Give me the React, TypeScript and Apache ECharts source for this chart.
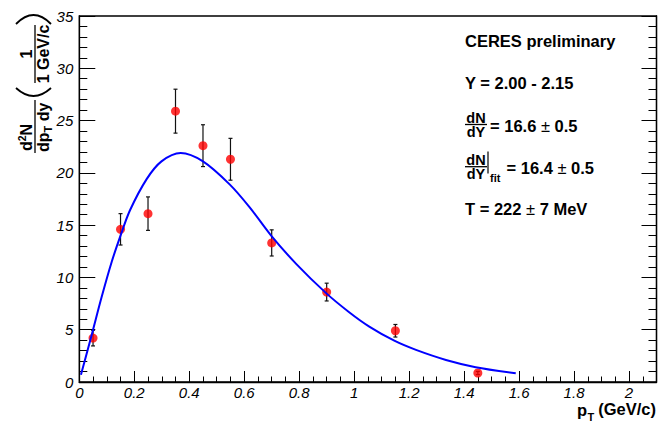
import { useEffect, useRef } from "react";
import * as echarts from "echarts";

// Measured invariant yield per p_T bin (GeV/c) with statistical errors
const ptBins = [0.05, 0.15, 0.25, 0.35, 0.45, 0.55, 0.7, 0.9, 1.15, 1.45];
const yields = [4.2, 14.6, 16.1, 25.9, 22.6, 21.3, 13.3, 8.6, 4.9, 0.86];
const yieldErrors = [0.75, 1.5, 1.6, 2.1, 2.0, 2.0, 1.25, 0.85, 0.6, 0.15];

// Thermal fit curve sampled along p_T
const fitPt = [
  0.006, 0.045, 0.081, 0.118, 0.15, 0.184, 0.245, 0.299, 0.369, 0.45, 0.547,
  0.62, 0.698, 0.789, 0.898, 0.983, 1.055, 1.146, 1.225, 1.334, 1.442, 1.588,
];
const fitYield = [
  0.7, 4.5, 8.1, 11.5, 14.0, 16.4, 19.4, 21.1, 21.9, 21.1, 18.9, 16.7,
  14.0, 11.3, 8.5, 6.65, 5.3, 3.95, 3.07, 2.11, 1.42, 0.83,
];

// Axis tick labels
const xTickLabels = ["0", "0.2", "0.4", "0.6", "0.8", "1", "1.2", "1.4", "1.6", "1.8", "2"];
const yTickLabels = ["0", "5", "10", "15", "20", "25", "30", "35"];

const FONT = "'Liberation Sans', Arial, Helvetica, sans-serif";
const TICK_FONT = "'Liberation Sans', 'DejaVu Sans', sans-serif";
const INK = "#000";

function txt(
  text: string,
  x: number,
  y: number,
  opts: { size?: number; align?: string; weight?: string; rich?: any; lh?: number } = {}
) {
  const align = opts.align ?? "left";
  const size = opts.size ?? 16.5;
  return {
    type: "text",
    x,
    y,
    style: {
      text,
      fill: INK,
      fontFamily: FONT,
      fontSize: size,
      fontWeight: opts.weight ?? "bold",
      lineHeight: opts.lh ?? Math.round(size * 0.9),
      align,
      textAlign: align,
      verticalAlign: "middle",
      textVerticalAlign: "middle",
      rich: opts.rich,
    },
  };
}

function seg(x1: number, y1: number, x2: number, y2: number, w = 1.3) {
  return {
    type: "line",
    shape: { x1, y1, x2, y2 },
    style: { stroke: INK, lineWidth: w },
  };
}

const pmRich = {
  pm: { fontWeight: "normal", fontSize: 16.5, fontFamily: FONT, verticalAlign: "middle", lineHeight: 15 },
};

function scriptRich(main: number, small: number) {
  return {
    m: { fontSize: main, fontWeight: "bold", fontFamily: FONT, verticalAlign: "middle", lineHeight: 20 },
    sup: { fontSize: small, fontWeight: "bold", fontFamily: FONT, verticalAlign: "top", lineHeight: 20 },
    sub: { fontSize: small, fontWeight: "bold", fontFamily: FONT, verticalAlign: "bottom", lineHeight: 20 },
  };
}

// Slanted tick-label style, applied through a rich token
const tickRich = {
  i: {
    color: INK,
    fontFamily: TICK_FONT,
    fontStyle: "oblique",
    fontWeight: "normal",
    fontSize: 15,
    lineHeight: 13,
  },
};

export default function App() {
  const ref = useRef<HTMLDivElement>(null);

  useEffect(() => {
    if (!ref.current) return;
    const chart = echarts.init(ref.current, undefined, { renderer: "svg" });

    const errorData = ptBins.map((x, i) => [x, yields[i] - yieldErrors[i], yields[i] + yieldErrors[i]]);
    const pointData = ptBins.map((x, i) => [x, yields[i]]);
    const fitData = fitPt.map((x, i) => [x, fitYield[i]]);

    const tickLabelStyle = {
      color: INK,
      fontFamily: TICK_FONT,
      fontStyle: "oblique",
      fontSize: 15,
      lineHeight: 13,
      rich: tickRich,
    };

    // Rotated y-axis title: d2N/dpT dy (1 / 1 GeV/c)
    const yTitle = {
      type: "group",
      x: 0,
      y: 155,
      rotation: Math.PI / 2,
      children: [
        txt("{m|d}{sup|2}{m|N}", 4, 26.5, { rich: scriptRich(16, 10.5), lh: 14 }),
        seg(2, 35, 55, 35),
        txt("{m|dp}{sub|T}{m| dy}", 3, 43.5, { rich: scriptRich(16, 11), lh: 14 }),
        {
          type: "bezierCurve",
          shape: { x1: 67, y1: 16, x2: 67, y2: 51, cpx1: 51, cpy1: 33.5 },
          style: { stroke: INK, lineWidth: 1.8, fill: "none" },
        },
        txt("1", 101, 26.5, { size: 16, align: "center", lh: 14 }),
        seg(72, 35, 130, 35),
        txt("1 GeV/c", 101, 43.5, { size: 16, align: "center", lh: 14 }),
        {
          type: "bezierCurve",
          shape: { x1: 131, y1: 16, x2: 131, y2: 51, cpx1: 149, cpy1: 33.5 },
          style: { stroke: INK, lineWidth: 1.8, fill: "none" },
        },
      ],
    };

    const infoBox = [
      txt("CERES preliminary", 465, 40.5),
      txt("Y = 2.00 - 2.15", 465, 82.5),
      txt("dN", 476, 117.5, { size: 14.5, align: "center", lh: 11 }),
      seg(465, 124.5, 487, 124.5),
      txt("dY", 476, 132, { size: 14.5, align: "center", lh: 11 }),
      txt("= 16.6 {pm|±} 0.5", 490, 126, { rich: pmRich }),
      txt("dN", 476, 159.5, { size: 14.5, align: "center", lh: 11 }),
      seg(465, 166.7, 487, 166.7),
      txt("dY", 476, 174, { size: 14.5, align: "center", lh: 11 }),
      seg(488, 151.5, 488, 173.5, 1.2),
      txt("fit", 490, 177.5, { size: 11, lh: 10 }),
      txt("= 16.4 {pm|±} 0.5", 506.5, 167.5, { rich: pmRich }),
      txt("T = 222 {pm|±} 7 MeV", 465, 209, { rich: pmRich }),
    ];

    // x-axis title p_T (GeV/c), subscript placed by hand
    const xTitle = [
      txt("p", 577, 410, { size: 16.5, lh: 13 }),
      txt("T", 587.5, 416.5, { size: 11, lh: 10 }),
      txt("(GeV/c)", 656, 408.5, { size: 16.5, align: "right", lh: 13 }),
    ];

    chart.setOption({
      animation: false,
      backgroundColor: "#fff",
      grid: {
        left: 79.3,
        right: 10.5,
        top: 16,
        bottom: 42,
        show: true,
        borderColor: INK,
        borderWidth: 1.3,
        backgroundColor: "transparent",
        outerBoundsMode: "none",
      },
      xAxis: [
        {
          type: "value",
          min: 0,
          max: 2.1,
          interval: 0.2,
          position: "bottom",
          axisLine: { show: true, onZero: false, lineStyle: { color: INK, width: 1.3 } },
          axisTick: { show: true, inside: true, length: 11, lineStyle: { color: INK, width: 1 } },
          minorTick: { show: false },
          splitLine: { show: false },
          axisLabel: {
            ...tickLabelStyle,
            margin: 4,
            showMaxLabel: false,
            formatter: (v: number) => {
              const k = Math.round(v / 0.2);
              const s = Math.abs(k * 0.2 - v) < 1e-6 ? xTickLabels[k] ?? "" : "";
              return s ? `{i|${s}}` : "";
            },
          },
        },
        {
          type: "value",
          min: 0,
          max: 2.1,
          interval: 0.05,
          position: "bottom",
          axisLine: { show: false },
          axisTick: { show: true, inside: true, length: 5.5, lineStyle: { color: INK, width: 1 } },
          axisLabel: { show: false },
          splitLine: { show: false },
        },
      ],
      yAxis: [
        {
          type: "value",
          min: 0,
          max: 35,
          interval: 5,
          position: "left",
          axisLine: { show: true, onZero: false, lineStyle: { color: INK, width: 1.3 } },
          axisTick: { show: true, inside: true, length: 16, lineStyle: { color: INK, width: 1 } },
          minorTick: { show: true, splitNumber: 5, length: 8, lineStyle: { color: INK, width: 1 } },
          splitLine: { show: false },
          axisLabel: {
            ...tickLabelStyle,
            margin: 6,
            formatter: (v: number) => `{i|${yTickLabels[Math.round(v / 5)] ?? ""}}`,
          },
        },
        {
          type: "value",
          min: 0,
          max: 35,
          interval: 5,
          position: "right",
          axisLine: { show: true, onZero: false, lineStyle: { color: INK, width: 1.3 } },
          axisTick: { show: true, inside: true, length: 15, lineStyle: { color: INK, width: 1 } },
          minorTick: { show: true, splitNumber: 5, length: 8, lineStyle: { color: INK, width: 1 } },
          splitLine: { show: false },
          axisLabel: { show: false },
        },
      ],
      series: [
        {
          type: "custom",
          xAxisIndex: 0,
          yAxisIndex: 0,
          z: 3,
          encode: { x: 0, y: [1, 2] },
          data: errorData,
          renderItem: (_params: any, api: any) => {
            const x = api.value(0);
            const lo = api.coord([x, api.value(1)]);
            const hi = api.coord([x, api.value(2)]);
            const cap = 2;
            const stroke = { stroke: "#111", lineWidth: 1.2 };
            return {
              type: "group",
              children: [
                { type: "line", shape: { x1: lo[0], y1: lo[1], x2: hi[0], y2: hi[1] }, style: stroke },
                { type: "line", shape: { x1: lo[0] - cap, y1: lo[1], x2: lo[0] + cap, y2: lo[1] }, style: stroke },
                { type: "line", shape: { x1: hi[0] - cap, y1: hi[1], x2: hi[0] + cap, y2: hi[1] }, style: stroke },
              ],
            };
          },
        },
        {
          type: "scatter",
          xAxisIndex: 0,
          yAxisIndex: 0,
          z: 4,
          data: pointData,
          symbol: "circle",
          symbolSize: 9,
          itemStyle: { color: "#ff0000" },
        },
        {
          type: "line",
          xAxisIndex: 0,
          yAxisIndex: 0,
          z: 5,
          data: fitData,
          smooth: 0.3,
          symbol: "none",
          showSymbol: false,
          lineStyle: { color: "#0000ff", width: 2 },
        },
      ],
      graphic: [yTitle, ...xTitle, ...infoBox],
    });

    return () => chart.dispose();
  }, []);

  return (
    <div
      ref={ref}
      style={{ position: "absolute", left: 0, top: 0, width: 667, height: 424 }}
    />
  );
}
